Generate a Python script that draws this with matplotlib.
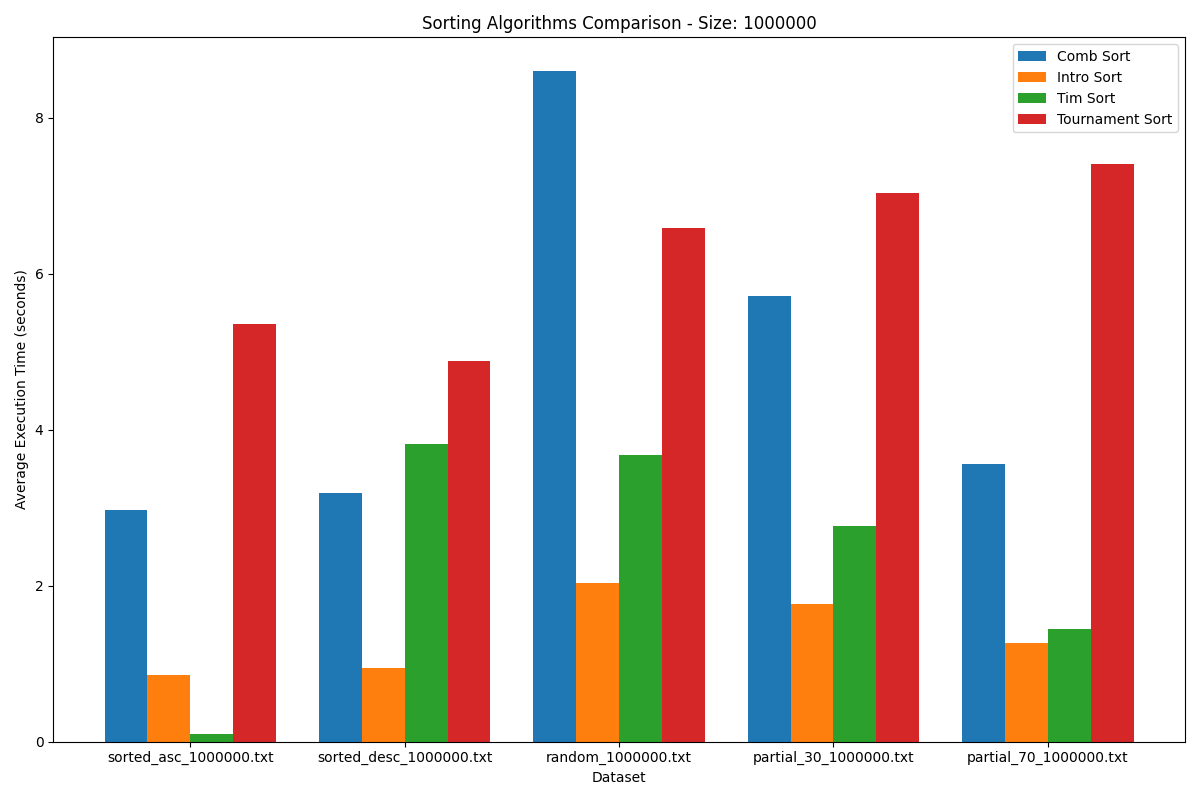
import numpy as np
import matplotlib
matplotlib.use("Agg")
import matplotlib.pyplot as plt

datasets = ["sorted_asc_1000000.txt", "sorted_desc_1000000.txt", "random_1000000.txt",
            "partial_30_1000000.txt", "partial_70_1000000.txt"]
algorithms = ["Comb Sort", "Intro Sort", "Tim Sort", "Tournament Sort"]
comb = [2.97, 3.19, 8.60, 5.71, 3.56]
intro = [0.86, 0.94, 2.03, 1.76, 1.27]
tim = [0.10, 3.82, 3.68, 2.76, 1.44]
tournament = [5.36, 4.88, 6.58, 7.03, 7.41]
values = [comb, intro, tim, tournament]

fig, ax = plt.subplots(figsize=(12, 8), dpi=100)
x = np.arange(len(datasets))
width = 0.2
for i, (name, vals) in enumerate(zip(algorithms, values)):
    ax.bar(x + (i - 1.5) * width, vals, width, label=name)

ax.set_xticks(x)
ax.set_xticklabels(datasets)
ax.set_xlabel("Dataset")
ax.set_ylabel("Average Execution Time (seconds)")
ax.set_title("Sorting Algorithms Comparison - Size: 1000000")
ax.legend()
plt.tight_layout()
plt.savefig("out.png")
